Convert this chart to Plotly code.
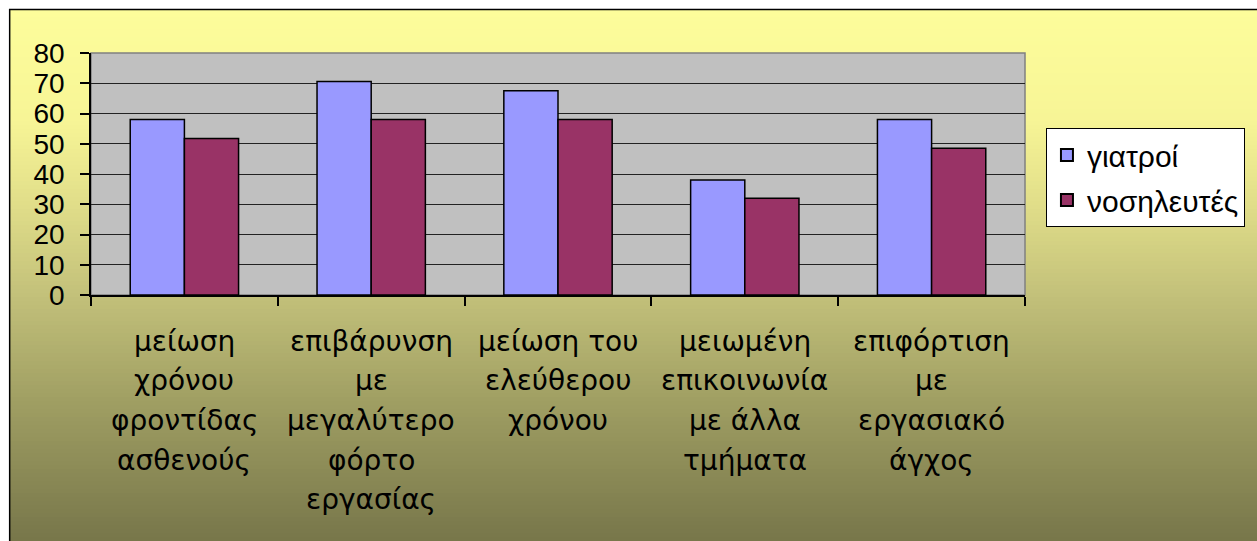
import plotly.graph_objects as go

# Survey categories, one list of display lines per category
label_lines = [
    ["μείωση", "χρόνου", "φροντίδας", "ασθενούς"],
    ["επιβάρυνση", "με", "μεγαλύτερο", "φόρτο", "εργασίας"],
    ["μείωση του", "ελεύθερου", "χρόνου"],
    ["μειωμένη", "επικοινωνία", "με άλλα", "τμήματα"],
    ["επιφόρτιση", "με", "εργασιακό", "άγχος"],
]
categories = [" ".join(lines) for lines in label_lines]

doctors = [58, 70.6, 67.5, 38, 58]
nurses = [51.7, 58, 58, 32, 48.5]

y_ticks = [0, 10, 20, 30, 40, 50, 60, 70, 80]

W, H = 1257, 541
ML, MR, MT, MB = 91, 230, 53, 246
PW, PH = W - ML - MR, H - MT - MB


def px_to_paper_x(px):
    return (px - ML) / PW


def px_to_paper_y(py):
    return (H - MB - py) / PH


def hex_to_rgb(h):
    h = h.lstrip("#")
    return tuple(int(h[i:i + 2], 16) for i in (0, 2, 4))


# vertical background gradient (pixel row -> colour)
grad_stops = [
    (9, "#FDFD9B"),
    (120, "#F7F596"),
    (200, "#E2DF8A"),
    (300, "#C1BF79"),
    (400, "#A09F63"),
    (541, "#77764A"),
]


def grad_color(py):
    for (y0, c0), (y1, c1) in zip(grad_stops, grad_stops[1:]):
        if y0 <= py <= y1:
            t = (py - y0) / (y1 - y0)
            a, b = hex_to_rgb(c0), hex_to_rgb(c1)
            r = [round(a[i] + (b[i] - a[i]) * t) for i in range(3)]
            return "rgb(%d,%d,%d)" % tuple(r)
    return grad_stops[-1][1]


shapes = []
step = 4
for py in range(9, H, step):
    shapes.append(dict(
        type="rect", xref="paper", yref="paper", layer="below",
        x0=px_to_paper_x(9), x1=px_to_paper_x(W + 5),
        y0=px_to_paper_y(py + step + 1), y1=px_to_paper_y(py),
        fillcolor=grad_color(py + step / 2), line=dict(width=0),
    ))

# chart frame
shapes.append(dict(
    type="rect", xref="paper", yref="paper", layer="below",
    x0=px_to_paper_x(9.5), x1=px_to_paper_x(W + 20),
    y0=px_to_paper_y(H + 20), y1=px_to_paper_y(9.5),
    fillcolor="rgba(0,0,0,0)", line=dict(color="black", width=1.5),
))
# plot-area fill and border
shapes.append(dict(
    type="rect", xref="x domain", yref="y domain", layer="below",
    x0=0, x1=1, y0=0, y1=1,
    fillcolor="#C0C0C0", line=dict(color="#808080", width=1.5),
))

fig = go.Figure()
fig.add_trace(go.Bar(
    name="γιατροί", x=categories, y=doctors,
    marker=dict(color="#9999FF", line=dict(color="black", width=1.5)),
    legendgroup="a",
))
fig.add_trace(go.Bar(
    name="νοσηλευτές", x=categories, y=nurses,
    marker=dict(color="#993366", line=dict(color="black", width=1.5)),
    legendgroup="b",
))

annotations = []
for cat, lines in zip(categories, label_lines):
    for i, line in enumerate(lines):
        annotations.append(dict(
            x=cat, xref="x", y=0, yref="paper", yanchor="middle",
            yshift=-(46 + 39.7 * i), text=line, showarrow=False,
            font=dict(family="DejaVu Sans", size=28, color="black"),
        ))

fig.update_layout(
    width=W, height=H,
    margin=dict(l=ML, r=MR, t=MT, b=MB),
    paper_bgcolor="white",
    plot_bgcolor="rgba(0,0,0,0)",
    barmode="group", bargap=0.42, bargroupgap=0,
    shapes=shapes,
    annotations=annotations,
    showlegend=True,
    legend=dict(
        x=px_to_paper_x(1048), y=px_to_paper_y(128),
        xanchor="left", yanchor="top",
        bgcolor="white", bordercolor="black", borderwidth=1,
        font=dict(family="Liberation Sans", size=30, color="black"),
        tracegroupgap=3,
        itemsizing="constant",
    ),
    xaxis=dict(
        showticklabels=False, ticks="outside", tickson="boundaries",
        ticklen=9, tickcolor="black", tickwidth=1.5,
        showline=True, linecolor="black", linewidth=1.5,
        showgrid=False,
    ),
    yaxis=dict(
        range=[0, 80], tickvals=y_ticks, ticktext=[str(v) for v in y_ticks],
        ticks="outside", ticklen=9, tickcolor="black", tickwidth=1.5,
        showline=True, linecolor="black", linewidth=1.5,
        showgrid=True, gridcolor="#222222", gridwidth=1.2,
        zeroline=False,
        tickfont=dict(family="Liberation Sans", size=28, color="black"),
        ticklabelstandoff=10,
    ),
)

fig.write_html("out.html")
